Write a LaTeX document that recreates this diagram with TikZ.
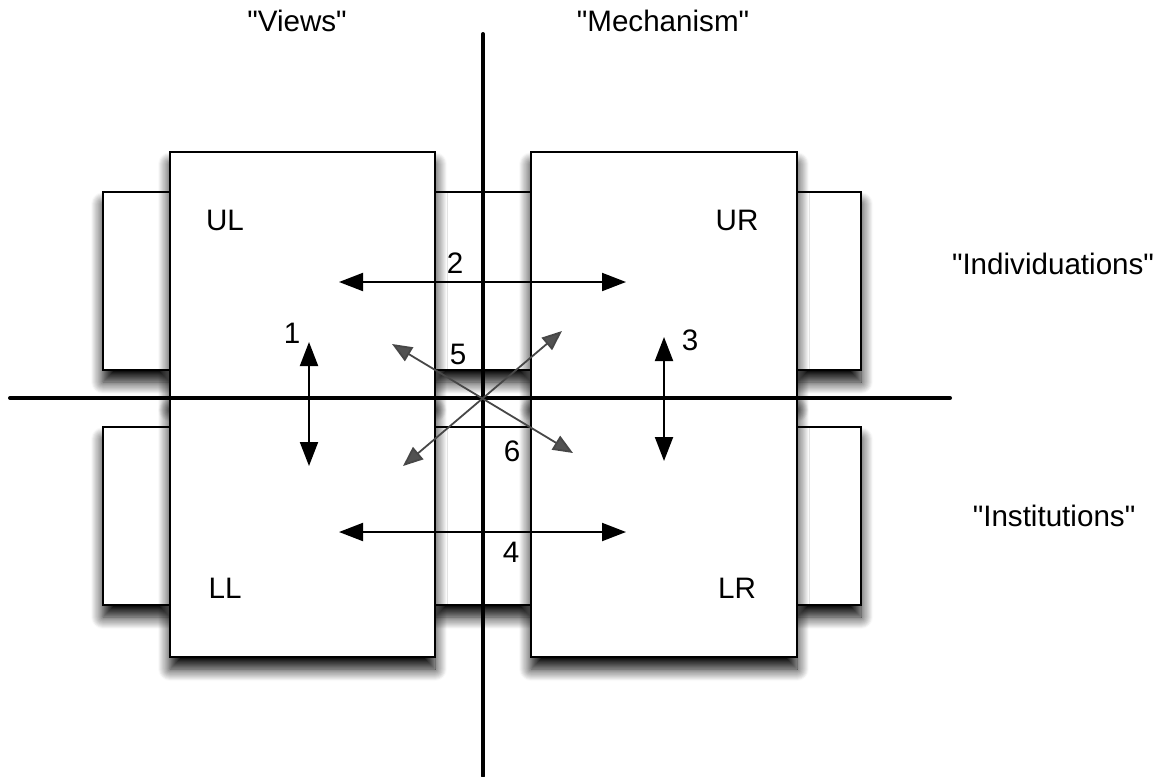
\documentclass[tikz,border=0pt]{standalone}
\usepackage{fontspec}
\setmainfont{Liberation Sans}
\usetikzlibrary{arrows.meta,shadows.blur,fit}
\begin{document}
\begin{tikzpicture}[x=0.5pt,y=-0.5pt,
  box/.style={draw=black,line width=1pt,fill=white,inner sep=0pt,
    blur shadow={shadow xshift=0pt,shadow yshift=-6pt,shadow blur radius=6pt,shadow opacity=100,shadow blur steps=12}},
  axis/.style={line width=2pt,black,line cap=round},
  dbl/.style={line width=1pt,{Triangle[length=12pt,width=9pt]}-{Triangle[length=12pt,width=9pt]}},
  diag/.style={line width=0.9pt,draw=black!72,{Triangle[length=10pt,width=8pt,fill=black!68]}-{Triangle[length=10pt,width=8pt,fill=black!68]}},
  lbl/.style={font=\fontsize{14.8}{17}\selectfont,inner sep=0pt},
]
\useasboundingbox (0,0) rectangle (1159,776);
% side boxes (behind)
\node[box,fit={(103,192) (170,370)}] (ULs) {};
\node[box,fit={(435,192) (531,370)}] (Ms) {};
\node[box,fit={(797,192) (861,370)}] (URs) {};
\node[box,fit={(103,427) (170,605)}] (LLs) {};
\node[box,fit={(435,427) (531,605)}] (LMs) {};
\node[box,fit={(797,427) (861,605)}] (LRs) {};
% main boxes
\node[box,fit={(170,152) (435,398)}] (UL) {};
\node[box,fit={(531,152) (797,398)}] (UR) {};
\node[box,fit={(170,398) (435,657)}] (LL) {};
\node[box,fit={(531,398) (797,657)}] (LR) {};
% axes
\coordinate (vtop) at (483,34);
\coordinate (vbot) at (483,776);
\coordinate (hl) at (10,398);
\coordinate (hr) at (950,398);
\draw[axis] (vtop) -- (vbot);
\draw[axis] (hl) -- (hr);
% titles
\node[lbl] (views) at (297,21) {\textquotedbl Views\textquotedbl};
\node[lbl] (mech) at (663,21) {\textquotedbl Mechanism\textquotedbl};
\node[lbl] (indiv) at (1053,264) {\textquotedbl Individuations\textquotedbl};
\node[lbl] (inst) at (1054,516) {\textquotedbl Institutions\textquotedbl};
% quadrant labels
\node[lbl] (tUL) at (225,220) {UL};
\node[lbl] (tUR) at (737,220) {UR};
\node[lbl] (tLL) at (225,588) {LL};
\node[lbl] (tLR) at (737,588) {LR};
% arrows
\coordinate (a2l) at (339,282); \coordinate (a2r) at (626,282);
\coordinate (a4l) at (339,532); \coordinate (a4r) at (626,532);
\coordinate (a1t) at (309,342); \coordinate (a1b) at (309,466);
\coordinate (a3t) at (664,337); \coordinate (a3b) at (664,461);
\coordinate (a5) at (392,344); \coordinate (a6) at (573,453);
\coordinate (a7) at (562,331); \coordinate (a8) at (403,466);
\draw[dbl] (a2l) -- (a2r);
\draw[dbl] (a4l) -- (a4r);
\draw[dbl] (a1t) -- (a1b);
\draw[dbl] (a3t) -- (a3b);
\draw[diag] (a5) -- (a6);
\draw[diag] (a7) -- (a8);
% numbers
\node[lbl] (n1) at (292,333) {1};
\node[lbl] (n2) at (455,263) {2};
\node[lbl] (n3) at (690,340) {3};
\node[lbl] (n4) at (511,552) {4};
\node[lbl] (n5) at (458,354) {5};
\node[lbl] (n6) at (512,451) {6};
\end{tikzpicture}
\end{document}
